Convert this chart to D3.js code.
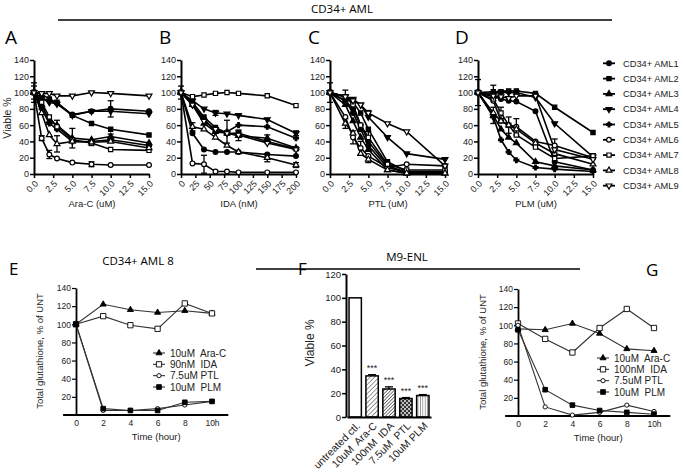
<!DOCTYPE html>
<html><head><meta charset="utf-8">
<script src="https://cdn.jsdelivr.net/npm/d3@7"></script>
<style>
body{margin:0;background:#fff;}
svg{font-family:"Liberation Sans",Arial,sans-serif;}
.ttl{font-family:"Open Sans","Liberation Sans",sans-serif;}
</style></head><body>
<svg id="c" width="683" height="474"></svg>
<script>
// ---------------- DATA ----------------
const amlNames = ["CD34+ AML1","CD34+ AML2","CD34+ AML3","CD34+ AML4","CD34+ AML5","CD34+ AML6","CD34+ AML7","CD34+ AML8","CD34+ AML9"];
const yTicksTop = [0,20,40,60,80,100,120,140];

const doseA = [0,1,2,3,5,7.5,10,15];
const ticksA = [0,2.5,5,7.5,10,12.5,15];
const viableA = [
  [100,93,90,87,73,77,80,77],
  [100,98,92,88,72,62,55,48],
  [100,85,65,60,44,42,46,38],
  [100,93,88,86,72,77,77,74],
  [100,80,62,55,40,40,42,35],
  [100,44,24,19,14,12,11,11],
  [100,88,70,58,42,38,30,29],
  [100,75,48,37,40,39,40,32],
  [100,99,99,96,96,100,99,96]
];
const errA = [[0,0,12],[7,0,8],[5,1,3],[5,2,5],[7,3,10],[2,3,6],[2,4,12],[6,5,3],[5,5,3],[0,6,10],[2,6,3]];

const doseB = [0,20,40,60,80,100,150,200];
const ticksB = [0,25,50,75,100,125,150,175,200];
const viableB = [
  [100,50,30,27,27,27,24,22],
  [100,88,70,57,50,50,40,31],
  [100,85,62,52,50,47,44,32],
  [100,90,80,75,74,72,67,50],
  [100,85,68,52,52,60,58,44],
  [100,13,12,3,3,2,2,2],
  [100,95,97,99,100,99,96,84],
  [100,58,55,45,35,27,20,11],
  [100,85,65,55,50,48,38,30]
];
const errB = [[1,0,8],[7,1,5],[5,2,11],[4,4,14],[2,5,6],[1,5,4],[3,3,3],[7,6,5],[2,6,4],[3,7,3],[7,7,3]];

const doseC = [0,2,3,4,5,7.5,10,15];
const ticksC = [0,2.5,5,7.5,10,12.5,15];
const viableC = [
  [100,90,75,55,35,8,2,2],
  [100,95,88,75,55,15,3,3],
  [100,85,65,45,30,5,1,1],
  [100,95,92,85,70,45,25,18],
  [100,90,80,60,40,10,2,2],
  [100,70,45,32,22,8,12,10],
  [100,95,85,60,45,12,5,5],
  [100,62,50,25,18,5,1,1],
  [100,95,90,85,75,62,52,10]
];
const errC = [[0,0,12],[1,1,8],[7,1,6],[5,2,8],[5,3,8],[7,4,4],[4,4,12],[8,4,3]];

const doseD = [0,2,3,4,5,7.5,10,15];
const ticksD = [0,2.5,5,7.5,10,12.5,15];
const viableD = [
  [100,95,92,90,89,77,15,5],
  [100,101,101,102,102,99,82,51],
  [100,72,55,45,38,15,10,5],
  [100,99,100,100,100,94,62,21],
  [100,70,42,27,17,8,6,3],
  [100,90,65,60,58,40,35,20],
  [100,92,75,60,48,33,19,22],
  [100,75,65,60,55,38,25,12],
  [100,96,95,93,96,96,30,18]
];
const errD = [[0,0,16],[1,1,8],[2,1,10],[6,2,7],[5,3,10],[5,4,10],[5,6,8],[6,7,3]];

const timeHours = [0,2,4,6,8,10];
const glutTicks = [20,40,60,80,100,120,140];
const treatE = ["10uM  Ara-C","90nM  IDA","7.5uM PTL","10uM  PLM"];
const glutE = [
  [100,122,116,113,115,112],
  [100,109,99,95,123,112],
  [100,5,5,7,11,15],
  [100,7,5,5,14,15]
];
const treatG = ["10uM  Ara-C","100nM  IDA","7.5uM PTL","10uM  PLM"];
const glutG = [
  [96,95,102,91,74,72],
  [102,85,70,97,118,97],
  [100,10,1,4,12,5],
  [95,29,12,6,4,2]
];

const fCats = ["untreated ctl.","10uM  Ara-C","100nM  IDA","7.5uM  PTL","10uM PLM"];
const fVals = [100,34.5,23.5,15.5,18];
const fErr = [0,1,1.8,0.8,0.8];
const fStars = ["","***","***","***","***"];
const fTicks = [0,20,40,60,80,100,120];

// ---------------- STYLE ----------------
const svg = d3.select("#c");
const amlSym = [d3.symbolCircle,d3.symbolSquare,d3.symbolTriangle,d3.symbolTriangle,d3.symbolCross,d3.symbolCircle,d3.symbolSquare,d3.symbolTriangle,d3.symbolTriangle];
const amlFlip = [0,0,0,1,0,0,0,0,1];
const amlFill = [1,1,1,1,1,0,0,0,0];
const amlSize = [18,18,15,15,13,18,18,15,15];

function marker(g, sym, size, flip, fill, x, y, sw){
  g.append("path").attr("d", d3.symbol(sym, size)())
   .attr("transform", `translate(${x},${y}) rotate(${flip?180:0})`)
   .attr("fill", fill ? "#000" : "#fff").attr("stroke", "#000").attr("stroke-width", sw||1);
}

const defs = svg.append("defs");
function hatch(id, size, angle, color, w){
  const p = defs.append("pattern").attr("id", id).attr("patternUnits","userSpaceOnUse")
    .attr("width", size).attr("height", size).attr("patternTransform", `rotate(${angle})`);
  p.append("rect").attr("width", size).attr("height", size).attr("fill","#fff");
  p.append("line").attr("x1",0).attr("y1",0).attr("x2",0).attr("y2",size).attr("stroke",color).attr("stroke-width",w);
}
hatch("pAra", 3.2, 45, "#555", 1.2);
hatch("pIda", 2.4, 45, "#333", 1.3);
hatch("pPlm", 2.4, 0, "#444", 1.0);
const pc = defs.append("pattern").attr("id","pPtl").attr("patternUnits","userSpaceOnUse").attr("width",4).attr("height",4);
pc.append("rect").attr("width",4).attr("height",4).attr("fill","#333");
pc.append("circle").attr("cx",1).attr("cy",1).attr("r",0.9).attr("fill","#fff");
pc.append("circle").attr("cx",3).attr("cy",3).attr("r",0.9).attr("fill","#fff");
const fFill = ["#fff","url(#pAra)","url(#pIda)","url(#pPtl)","url(#pPlm)"];

// ---------------- TOP TITLE ----------------
svg.append("text").attr("class","ttl").attr("x",342).attr("y",13).attr("text-anchor","middle").attr("font-size",11.5).text("CD34+ AML");
svg.append("line").attr("x1",58).attr("x2",612).attr("y1",20).attr("y2",20).attr("stroke","#000").attr("stroke-width",1.6);

// ---------------- TOP PANELS ----------------
const yTop = d3.scaleLinear().domain([0,140]).range([174,60]);
const panels = [
  {letter:"A", lx:5, x0:34, dose:doseA, data:viableA, err:errA, ticks:ticksA, fmt:d3.format(".1f"), title:"Ara-C (uM)"},
  {letter:"B", lx:159, x0:181, dose:doseB, data:viableB, err:errB, ticks:ticksB, fmt:d3.format("d"), title:"IDA (nM)"},
  {letter:"C", lx:308, x0:330, dose:doseC, data:viableC, err:errC, ticks:ticksC, fmt:d3.format(".1f"), title:"PTL (uM)"},
  {letter:"D", lx:455, x0:478, dose:doseD, data:viableD, err:errD, ticks:ticksD, fmt:d3.format(".1f"), title:"PLM (uM)"}
];
panels.forEach(p => {
  const x = d3.scaleLinear().domain([0, d3.max(p.ticks)]).range([p.x0, p.x0+115]);
  svg.append("text").attr("class","ttl").attr("x",p.lx).attr("y",44).attr("font-size",19).text(p.letter);
  const ya = svg.append("g").attr("transform",`translate(${p.x0},0)`)
    .call(d3.axisLeft(yTop).tickValues(yTicksTop).tickSize(4).tickSizeOuter(0).tickPadding(1));
  ya.selectAll("text").attr("font-size",9).attr("fill","#222");
  const xa = svg.append("g").attr("transform",`translate(0,${yTop(0)})`)
    .call(d3.axisBottom(x).tickValues(p.ticks).tickFormat(p.fmt).tickSize(4).tickSizeOuter(0));
  xa.selectAll("text").attr("y",0).attr("dy","0.35em").attr("font-size",9).attr("fill","#222")
    .attr("transform","translate(2,8) rotate(-45)").style("text-anchor","end");
  [ya,xa].forEach(a=>{ a.select(".domain").attr("stroke-width",2); a.selectAll(".tick line").attr("stroke-width",1.5); });
  svg.append("text").attr("x",p.x0+58).attr("y",207).attr("text-anchor","middle").attr("font-size",9.5).attr("fill","#222").text(p.title);
  const line = d3.line().x((d,i)=>x(p.dose[i])).y(d=>yTop(d));
  const g = svg.append("g");
  p.data.forEach(s => g.append("path").attr("d", line(s)).attr("fill","none").attr("stroke","#000").attr("stroke-width",1.6));
  p.err.forEach(([s,i,e]) => {
    const cx = x(p.dose[i]), v = p.data[s][i];
    g.append("line").attr("x1",cx).attr("x2",cx).attr("y1",yTop(v-e)).attr("y2",yTop(v+e)).attr("stroke","#000").attr("stroke-width",1.3);
    [v-e, v+e].forEach(t => g.append("line").attr("x1",cx-3).attr("x2",cx+3).attr("y1",yTop(t)).attr("y2",yTop(t)).attr("stroke","#000").attr("stroke-width",1.3));
  });
  p.data.forEach((s,k) => s.forEach((v,i) => marker(g, amlSym[k], amlSize[k], amlFlip[k], amlFill[k], x(p.dose[i]), yTop(v), 1.2)));
});
svg.append("text").attr("transform","translate(11,118) rotate(-90)").attr("text-anchor","middle").attr("font-size",10.5).attr("fill","#222").text("Viable %");

// legend D
const legY = d3.scalePoint().domain(amlNames).range([63.3, 185.7]);
amlNames.forEach((n,k) => {
  const yy = legY(n);
  svg.append("line").attr("x1",603).attr("x2",615).attr("y1",yy).attr("y2",yy).attr("stroke","#000").attr("stroke-width",1.8);
  marker(svg, amlSym[k], amlSize[k], amlFlip[k], amlFill[k], 609, yy, 1.2);
  svg.append("text").attr("x",623).attr("y",yy).attr("dy","0.35em").attr("font-size",9.3).attr("fill","#222").text(n);
});

// ---------------- BOTTOM: E & G ----------------
const glutSym = [d3.symbolTriangle, d3.symbolSquare, d3.symbolCircle, d3.symbolSquare];
const glutFill = [1,0,0,1];
const glutSize = [16,28,14,22];
function glutPanel(o){
  const x = d3.scaleLinear().domain([0,10]).range([o.x0, o.x0+136]);
  const y = d3.scaleLinear().domain([0,140]).range([o.yb, o.yb-127]);
  const ya = svg.append("g").attr("transform",`translate(${o.x0},0)`)
    .call(d3.axisLeft(y).tickValues(glutTicks).tickSize(4).tickSizeOuter(0).tickPadding(1));
  ya.selectAll("text").attr("font-size",8.5).attr("fill","#222");
  ya.select(".domain").attr("stroke-width",1.8);
  ya.selectAll(".tick line").attr("stroke-width",1.2);
  svg.append("line").attr("x1",x(-0.95)).attr("x2",x(11.2)).attr("y1",o.yb).attr("y2",o.yb).attr("stroke","#000").attr("stroke-width",1.8);
  const xa = svg.append("g").attr("transform",`translate(0,${o.yb})`)
    .call(d3.axisBottom(x).tickValues(timeHours).tickFormat(d=>d===10?"10h":d).tickSize(0).tickPadding(5));
  xa.select(".domain").remove();
  xa.selectAll("text").attr("font-size",8.5).attr("fill","#222");
  svg.append("text").attr("x",x(5.9)).attr("y",o.yb+25).attr("text-anchor","middle").attr("font-size",9.5).attr("fill","#222").text("Time (hour)");
  svg.append("text").attr("transform",`translate(${o.ylx},${o.yb-64}) rotate(-90)`).attr("text-anchor","middle").attr("font-size",9.5).attr("fill","#222").text("Total glutathione, % of UNT");
  const line = d3.line().x((d,i)=>x(timeHours[i])).y(d=>y(d));
  o.data.forEach(s => svg.append("path").attr("d",line(s)).attr("fill","none").attr("stroke","#333").attr("stroke-width",1.1));
  o.data.forEach((s,k) => s.forEach((v,i) => marker(svg, glutSym[k], glutSize[k], 0, glutFill[k], x(timeHours[i]), y(v), 0.9)));
  const ly = d3.scalePoint().domain(o.names).range([o.ly0, o.ly0+34]);
  o.names.forEach((n,k) => {
    svg.append("line").attr("x1",o.lx).attr("x2",o.lx+12).attr("y1",ly(n)).attr("y2",ly(n)).attr("stroke","#333").attr("stroke-width",1.1);
    marker(svg, glutSym[k], glutSize[k], 0, glutFill[k], o.lx+6, ly(n), 0.9);
    svg.append("text").attr("x",o.lx+17).attr("y",ly(n)).attr("dy","0.35em").attr("font-size",10).attr("fill","#222").style("white-space","pre").text(n);
  });
}
glutPanel({x0:76, yb:415, ylx:43, data:glutE, names:treatE, lx:153, ly0:353});
glutPanel({x0:518, yb:416, ylx:486, data:glutG, names:treatG, lx:597, ly0:358});

svg.append("text").attr("class","ttl").attr("x",9).attr("y",275).attr("font-size",17).text("E");
svg.append("text").attr("class","ttl").attr("x",138).attr("y",265).attr("text-anchor","middle").attr("font-size",11.5).text("CD34+ AML 8");
svg.append("text").attr("class","ttl").attr("x",298).attr("y",275).attr("font-size",17).text("F");
svg.append("text").attr("class","ttl").attr("x",646).attr("y",276).attr("font-size",17).text("G");
svg.append("text").attr("class","ttl").attr("x",407).attr("y",261).attr("text-anchor","middle").attr("font-size",11.5).text("M9-ENL");
svg.append("line").attr("x1",256).attr("x2",580).attr("y1",269).attr("y2",269).attr("stroke","#000").attr("stroke-width",1.6);

// ---------------- F ----------------
const xF = d3.scaleBand().domain(fCats).range([347,431]).paddingInner(0.27).paddingOuter(0.12);
const yF = d3.scaleLinear().domain([0,120]).range([417,274]);
const yaF = svg.append("g").attr("transform","translate(346,0)")
  .call(d3.axisLeft(yF).tickValues(fTicks).tickSize(4).tickSizeOuter(0).tickPadding(1));
yaF.selectAll("text").attr("font-size",9.5).attr("fill","#222");
yaF.select(".domain").attr("stroke-width",2);
yaF.selectAll(".tick line").attr("stroke-width",1.5);
fCats.forEach((c,i) => {
  svg.append("rect").attr("x",xF(c)).attr("y",yF(fVals[i])).attr("width",xF.bandwidth()).attr("height",yF(0)-yF(fVals[i]))
    .attr("fill",fFill[i]).attr("stroke","#000").attr("stroke-width",1.5);
  const cx = xF(c)+xF.bandwidth()/2;
  if (fErr[i]>0){
    svg.append("line").attr("x1",cx).attr("x2",cx).attr("y1",yF(fVals[i])).attr("y2",yF(fVals[i]+fErr[i])).attr("stroke","#000").attr("stroke-width",1.3);
    svg.append("line").attr("x1",cx-4).attr("x2",cx+4).attr("y1",yF(fVals[i]+fErr[i])).attr("y2",yF(fVals[i]+fErr[i])).attr("stroke","#000").attr("stroke-width",1.3);
  }
  svg.append("text").attr("x",cx).attr("y",yF(fVals[i]+fErr[i])-4).attr("text-anchor","middle").attr("font-size",9).attr("fill","#222").text(fStars[i]);
});
const xaF = svg.append("g").attr("transform","translate(0,417)")
  .call(d3.axisBottom(xF).tickSize(0).tickSizeOuter(0));
xaF.select(".domain").attr("stroke-width",2);
xaF.selectAll("text").attr("y",0).attr("dy","0.35em").attr("font-size",10.5).attr("fill","#222").style("white-space","pre")
  .attr("transform","translate(3,7) rotate(-45)").style("text-anchor","end");
svg.append("text").attr("transform","translate(314,343) rotate(-90)").attr("text-anchor","middle").attr("font-size",12).attr("fill","#222").text("Viable %");
</script></body></html>
